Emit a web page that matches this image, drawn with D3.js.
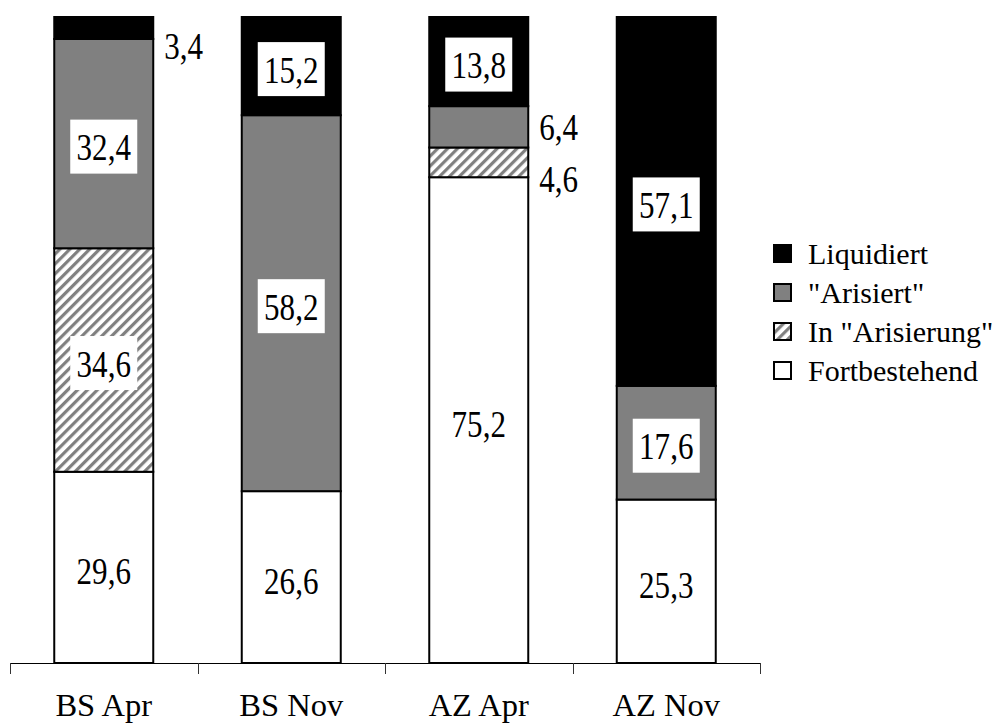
<!DOCTYPE html>
<html>
<head>
<meta charset="utf-8">
<script src="https://cdn.jsdelivr.net/npm/d3@7"></script>
<style>
  html, body { margin: 0; padding: 0; background: #fff; }
  svg { display: block; }
  svg text { font-family: "Liberation Serif", "Times New Roman", serif; }
</style>
</head>
<body>
<svg id="chart" width="997" height="724"></svg>
<script>
// Firmenstatus in Prozent, je Stadt und Zeitpunkt
const categories = ["BS Apr", "BS Nov", "AZ Apr", "AZ Nov"];
const seriesNames = ["Fortbestehend", "In \"Arisierung\"", "\"Arisiert\"", "Liquidiert"];
const fortbestehend = [29.6, 26.6, 75.2, 25.3];
const inArisierung  = [34.6, 0,    4.6,  0];
const arisiert      = [32.4, 58.2, 6.4,  17.6];
const liquidiert    = [3.4,  15.2, 13.8, 57.1];
const legendOrder = ["Liquidiert", "\"Arisiert\"", "In \"Arisierung\"", "Fortbestehend"];

const FONT = "Liberation Serif";

const rows = categories.map((c, i) => ({
  cat: c,
  [seriesNames[0]]: fortbestehend[i],
  [seriesNames[1]]: inArisierung[i],
  [seriesNames[2]]: arisiert[i],
  [seriesNames[3]]: liquidiert[i]
}));

const svg = d3.select("#chart");
const defs = svg.append("defs");

// diagonal grey hatching
const hatch = defs.append("pattern")
  .attr("id", "hatch")
  .attr("patternUnits", "userSpaceOnUse")
  .attr("width", 7).attr("height", 7)
  .attr("patternTransform", "rotate(45)");
hatch.append("rect").attr("width", 7).attr("height", 7).attr("fill", "#fff");
hatch.append("rect").attr("x", 0).attr("width", 3.2).attr("height", 7).attr("fill", "#808080");

const fills = {
  "Fortbestehend": "#ffffff",
  "In \"Arisierung\"": "url(#hatch)",
  "\"Arisiert\"": "#808080",
  "Liquidiert": "#000000"
};

const x = d3.scaleBand().domain(categories).range([10, 760]).padding(0);
const barW = x.bandwidth() * 0.528;
const y = d3.scaleLinear().domain([0, 100]).range([663, 17]);

const fmt = d3.formatLocale({ decimal: ",", thousands: ".", grouping: [3], currency: ["", ""] }).format(".1f");

const stack = d3.stack().keys(seriesNames)(rows);

// bars
const layers = svg.append("g").selectAll("g")
  .data(stack).join("g")
  .attr("fill", d => fills[d.key]);

layers.selectAll("rect")
  .data(d => d.map(p => ({ p, key: d.key })).filter(e => e.p[1] - e.p[0] > 0))
  .join("rect")
  .attr("x", e => x(e.p.data.cat) + (x.bandwidth() - barW) / 2)
  .attr("y", e => y(e.p[1]))
  .attr("width", barW)
  .attr("height", e => y(e.p[0]) - y(e.p[1]))
  .attr("stroke", "#000")
  .attr("stroke-width", 2);

// x axis: baseline with tick marks at category boundaries
const axisG = svg.append("g");
axisG.append("line")
  .attr("x1", x.range()[0]).attr("x2", x.range()[1])
  .attr("y1", y(0) + 0.5).attr("y2", y(0) + 0.5)
  .attr("stroke", "#000").attr("stroke-width", 1);
const bounds = categories.map(c => x(c)).concat([x.range()[1]]);
axisG.selectAll("line.tick").data(bounds).join("line")
  .attr("class", "tick")
  .attr("x1", d => Math.round(d) + 0.5).attr("x2", d => Math.round(d) + 0.5)
  .attr("y1", y(0)).attr("y2", y(0) + 11)
  .attr("stroke", "#333").attr("stroke-width", 1);
axisG.selectAll("text").data(categories).join("text")
  .attr("x", d => x(d) + x.bandwidth() / 2)
  .attr("y", 716)
  .attr("text-anchor", "middle")
  .attr("font-family", FONT)
  .attr("font-size", 32.5)
  .attr("fill", "#000")
  .text(d => d);

// value labels
const outsideNudge = { "BS Apr|Liquidiert": 19, "AZ Apr|In \"Arisierung\"": 17 };
const labels = [];
stack.forEach(layer => {
  layer.forEach(p => {
    const v = p[1] - p[0];
    if (v <= 0) return;
    const cat = p.data.cat;
    const cy = (y(p[0]) + y(p[1])) / 2;
    labels.push({ key: layer.key, cat, v, cy, inside: v >= 10 });
  });
});

const labG = svg.append("g");
labels.forEach(l => {
  const value = Math.round(l.v * 10) / 10;
  if (l.inside) {
    const cx = x(l.cat) + x.bandwidth() / 2;
    labG.append("rect")
      .attr("x", cx - 33.5).attr("y", l.cy - 24)
      .attr("width", 67).attr("height", 54)
      .attr("fill", "#fff");
    labG.append("text")
      .attr("transform", `translate(${cx},${l.cy + 16.5}) scale(0.84,1)`)
      .attr("text-anchor", "middle")
      .attr("font-family", FONT)
      .attr("font-size", 37)
      .attr("fill", "#000")
      .text(fmt(value));
  } else {
    const nudge = outsideNudge[l.cat + "|" + l.key] || 1;
    const bx = x(l.cat) + (x.bandwidth() + barW) / 2 + 11;
    labG.append("text")
      .attr("transform", `translate(${bx},${l.cy + nudge + 12.5}) scale(0.84,1)`)
      .attr("text-anchor", "start")
      .attr("font-family", FONT)
      .attr("font-size", 37)
      .attr("fill", "#000")
      .text(fmt(value));
  }
});

// legend
const legend = svg.append("g").attr("transform", "translate(773,244)");
const li = legend.selectAll("g").data(legendOrder).join("g")
  .attr("transform", (d, i) => `translate(0,${i * 39})`);
li.append("rect")
  .attr("x", 1).attr("y", 1).attr("width", 17).attr("height", 17)
  .attr("fill", d => fills[d])
  .attr("stroke", "#000").attr("stroke-width", 2);
li.append("text")
  .attr("x", 35).attr("y", 19.5)
  .attr("font-family", FONT)
  .attr("font-size", 30)
  .attr("fill", "#000")
  .text(d => d);
</script>
</body>
</html>
